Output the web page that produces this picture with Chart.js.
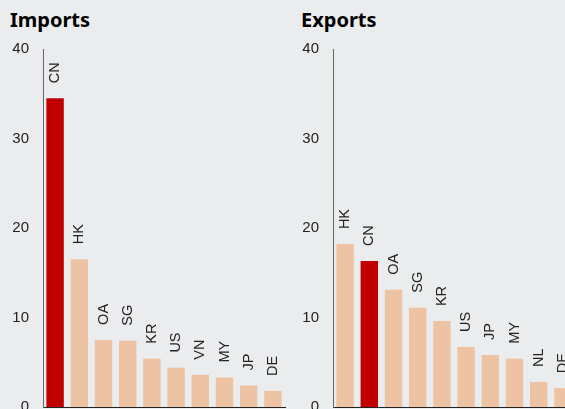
<!DOCTYPE html>
<html>
<head>
<meta charset="utf-8">
<script src="https://cdn.jsdelivr.net/npm/chart.js@4.4.1/dist/chart.umd.min.js"></script>
<style>
  html, body { margin: 0; padding: 0; background: #EBECEE; overflow: hidden; width: 565px; height: 409px; }
  .title { position: absolute; top: 6px; font: bold 20px "Noto Sans", sans-serif; color: #000; }
  canvas { position: absolute; top: 0; }
</style>
</head>
<body>
<div class="title" style="left:10px">Imports</div>
<div class="title" style="left:301px">Exports</div>
<canvas id="imports" width="290" height="430" style="left:0"></canvas>
<canvas id="exports" width="292" height="430" style="left:283px"></canvas>
<script>
const importLabels = ['CN', 'HK', 'OA', 'SG', 'KR', 'US', 'VN', 'MY', 'JP', 'DE'];
const importValues = [34.5, 16.5, 7.5, 7.4, 5.4, 4.4, 3.6, 3.3, 2.4, 1.8];
const exportLabels = ['HK', 'CN', 'OA', 'SG', 'KR', 'US', 'JP', 'MY', 'NL', 'DE'];
const exportValues = [18.2, 16.3, 13.1, 11.1, 9.6, 6.7, 5.8, 5.4, 2.8, 2.1];
const yTicks = [0, 10, 20, 30, 40];

const RED = '#C00000';
const PEACH = '#EDC3A3';

// rotated country codes above each bar
const barLabels = {
  id: 'barLabels',
  afterDatasetsDraw(chart) {
    const ctx = chart.ctx;
    const meta = chart.getDatasetMeta(0);
    ctx.save();
    ctx.font = '14.5px "Liberation Sans", Arial, sans-serif';
    ctx.fillStyle = '#222';
    ctx.textAlign = 'left';
    ctx.textBaseline = 'middle';
    meta.data.forEach((bar, i) => {
      ctx.save();
      ctx.translate(bar.x, bar.y - 15);
      ctx.rotate(-Math.PI / 2);
      ctx.fillText(chart.data.labels[i], 0, 0);
      ctx.restore();
    });
    ctx.restore();
  }
};

function makeChart(id, labels, values, axisWidth, padRight) {
  return new Chart(document.getElementById(id), {
    type: 'bar',
    data: {
      labels: labels,
      datasets: [{
        data: values,
        backgroundColor: labels.map(l => l === 'CN' ? RED : PEACH),
        barPercentage: 0.72,
        categoryPercentage: 1
      }]
    },
    plugins: [barLabels],
    options: {
      responsive: false,
      animation: false,
      plugins: { legend: { display: false }, tooltip: { enabled: false } },
      layout: { padding: { top: 49, bottom: 21.5, left: 0, right: padRight } },
      scales: {
        x: {
          grid: { display: false, drawTicks: false },
          border: { display: true, color: '#222', width: 1 },
          ticks: { display: false },
          afterFit(scale) { scale.height = 0; }
        },
        y: {
          min: 0,
          max: 40,
          afterBuildTicks(scale) { scale.ticks = yTicks.map(v => ({ value: v })); },
          grid: { display: false, drawTicks: false },
          border: { display: true, color: '#666', width: 1 },
          ticks: {
            padding: 14,
            color: '#222',
            font: { size: 15, family: '"Liberation Sans", Arial, sans-serif' }
          },
          afterFit(scale) { scale.width = axisWidth; }
        }
      }
    }
  });
}

makeChart('imports', importLabels, importValues, 43, 5);
makeChart('exports', exportLabels, exportValues, 50, 0);
</script>
</body>
</html>
